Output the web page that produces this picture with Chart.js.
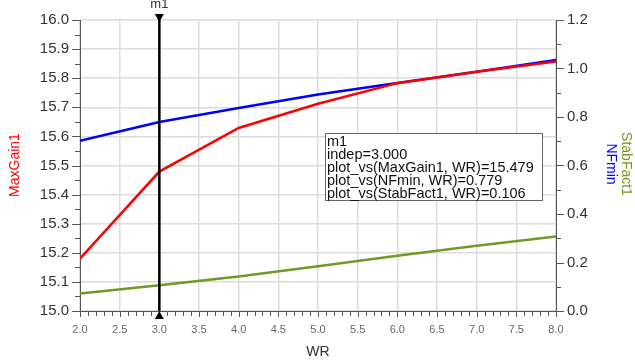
<!DOCTYPE html>
<html>
<head>
<meta charset="utf-8">
<script src="https://cdn.jsdelivr.net/npm/chart.js@4/dist/chart.umd.min.js"></script>
<style>
  html, body { margin: 0; padding: 0; background: #fff; }
  #wrap { width: 635px; height: 364px; }
</style>
</head>
<body>
<div id="wrap"><canvas id="gainChart" width="635" height="364"></canvas></div>
<script>
// sweep of WR and the three simulated traces
const wr = [2, 3, 4, 5, 6, 7, 8];
const maxGain = [15.18, 15.479, 15.629, 15.712, 15.783, 15.822, 15.857];
const nfMin = [0.702, 0.779, 0.837, 0.893, 0.940, 0.987, 1.035];
const stabFact = [0.072, 0.106, 0.142, 0.185, 0.228, 0.269, 0.307];

const markerX = 3.0;
const markerLines = [
  'm1',
  'indep=3.000',
  'plot_vs(MaxGain1, WR)=15.479',
  'plot_vs(NFmin, WR)=0.779',
  'plot_vs(StabFact1, WR)=0.106'
];

const FONT = 'Arial, "Liberation Sans", sans-serif';
const GREEN = '#6f9a24';

function pts(ys) {
  return wr.map((x, i) => ({ x: x, y: ys[i] }));
}

// tick marks, marker m1, readout box and axis titles
const decorations = {
  id: 'decorations',
  afterDraw(chart) {
    const ctx = chart.ctx;
    const a = chart.chartArea;
    const x = chart.scales.x, y = chart.scales.y, y1 = chart.scales.y1;

    ctx.save();
    ctx.strokeStyle = '#555';
    ctx.lineWidth = 1;

    // x ticks every 0.1
    for (let i = 0; i <= 60; i++) {
      const px = Math.round(x.getPixelForValue(2 + i * 0.1)) + 0.5;
      const len = (i % 5 === 0) ? 6 : 5;
      ctx.beginPath(); ctx.moveTo(px, a.bottom); ctx.lineTo(px, a.bottom + len); ctx.stroke();
    }
    // left ticks every 0.05
    for (let i = 0; i <= 20; i++) {
      const py = Math.round(y.getPixelForValue(15 + i * 0.05)) + 0.5;
      const len = (i % 2 === 0) ? 8 : 5;
      ctx.beginPath(); ctx.moveTo(a.left - len, py); ctx.lineTo(a.left, py); ctx.stroke();
    }
    // right ticks every 0.1
    for (let i = 0; i <= 12; i++) {
      const py = Math.round(y1.getPixelForValue(i * 0.1)) + 0.5;
      const len = (i % 2 === 0) ? 8 : 5;
      ctx.beginPath(); ctx.moveTo(a.right, py); ctx.lineTo(a.right + len, py); ctx.stroke();
    }

    // marker m1
    const mx = x.getPixelForValue(markerX);
    ctx.strokeStyle = '#000';
    ctx.lineWidth = 2.5;
    ctx.beginPath(); ctx.moveTo(mx, a.top); ctx.lineTo(mx, a.bottom); ctx.stroke();
    ctx.fillStyle = '#000';
    ctx.beginPath();
    ctx.moveTo(mx - 4.5, a.top - 6); ctx.lineTo(mx + 4.5, a.top - 6); ctx.lineTo(mx, a.top + 2);
    ctx.closePath(); ctx.fill();
    ctx.beginPath();
    ctx.moveTo(mx - 4.5, a.bottom + 8); ctx.lineTo(mx + 4.5, a.bottom + 8); ctx.lineTo(mx, a.bottom);
    ctx.closePath(); ctx.fill();
    ctx.fillStyle = '#333';
    ctx.font = '13px ' + FONT;
    ctx.textAlign = 'center';
    ctx.textBaseline = 'alphabetic';
    ctx.fillText('m1', mx, 8);

    // readout box
    const bx = 325, by = 133, bw = 217, bh = 67;
    ctx.fillStyle = '#fff';
    ctx.fillRect(bx, by, bw, bh);
    ctx.strokeStyle = '#666';
    ctx.lineWidth = 1;
    ctx.strokeRect(bx + 0.5, by + 0.5, bw, bh);
    ctx.fillStyle = '#111';
    ctx.font = '14.5px ' + FONT;
    ctx.textAlign = 'left';
    markerLines.forEach((t, i) => ctx.fillText(t, bx + 2, by + 13 + i * 13));

    // axis titles
    ctx.font = '14px ' + FONT;
    ctx.textAlign = 'center';
    ctx.textBaseline = 'middle';
    ctx.fillStyle = '#333';
    ctx.fillText('WR', (a.left + a.right) / 2, 352);

    ctx.save();
    ctx.translate(15, 165);
    ctx.rotate(-Math.PI / 2);
    ctx.fillStyle = '#ff0000';
    ctx.fillText('MaxGain1', 0, 0);
    ctx.restore();

    ctx.save();
    ctx.translate(626, 164);
    ctx.rotate(Math.PI / 2);
    ctx.fillStyle = GREEN;
    ctx.fillText('StabFact1', 0, 0);
    ctx.restore();

    ctx.save();
    ctx.translate(611, 164);
    ctx.rotate(Math.PI / 2);
    ctx.fillStyle = '#0000ff';
    ctx.fillText('NFmin', 0, 0);
    ctx.restore();

    ctx.restore();
  }
};

new Chart(document.getElementById('gainChart').getContext('2d'), {
  type: 'line',
  data: {
    datasets: [
      { label: 'StabFact1', data: pts(stabFact), yAxisID: 'y1', borderColor: GREEN, borderWidth: 2.5 },
      { label: 'MaxGain1', data: pts(maxGain), yAxisID: 'y', borderColor: '#ff0000', borderWidth: 2.5 },
      { label: 'NFmin', data: pts(nfMin), yAxisID: 'y1', borderColor: '#0000ff', borderWidth: 2.5 }
    ]
  },
  options: {
    responsive: false,
    animation: false,
    elements: { point: { radius: 0 }, line: { tension: 0 } },
    layout: { padding: { top: 17, left: 0, right: 0, bottom: 0 } },
    plugins: { legend: { display: false }, tooltip: { enabled: false } },
    scales: {
      x: {
        type: 'linear', min: 2, max: 8,
        afterFit(s) { s.height = 53; },
        ticks: {
          stepSize: 0.5, padding: 12, color: '#666',
          font: { family: FONT, size: 11 },
          callback: v => v.toFixed(1)
        },
        grid: { color: '#dcdcdc', lineWidth: 1.5, drawTicks: false },
        border: { color: '#555', width: 1 }
      },
      y: {
        position: 'left', min: 15, max: 16,
        afterFit(s) { s.width = 80; },
        ticks: {
          stepSize: 0.1, padding: 11, color: '#333',
          font: { family: FONT, size: 15 },
          callback: v => v.toFixed(1)
        },
        grid: { color: '#dcdcdc', lineWidth: 1.5, drawTicks: false },
        border: { color: '#555', width: 1 }
      },
      y1: {
        position: 'right', min: 0, max: 1.2,
        afterFit(s) { s.width = 79; },
        ticks: {
          stepSize: 0.2, padding: 11, color: '#333',
          font: { family: FONT, size: 15 },
          callback: v => v.toFixed(1)
        },
        grid: { drawOnChartArea: false, drawTicks: false },
        border: { color: '#555', width: 1 }
      }
    }
  },
  plugins: [decorations]
});
</script>
</body>
</html>
